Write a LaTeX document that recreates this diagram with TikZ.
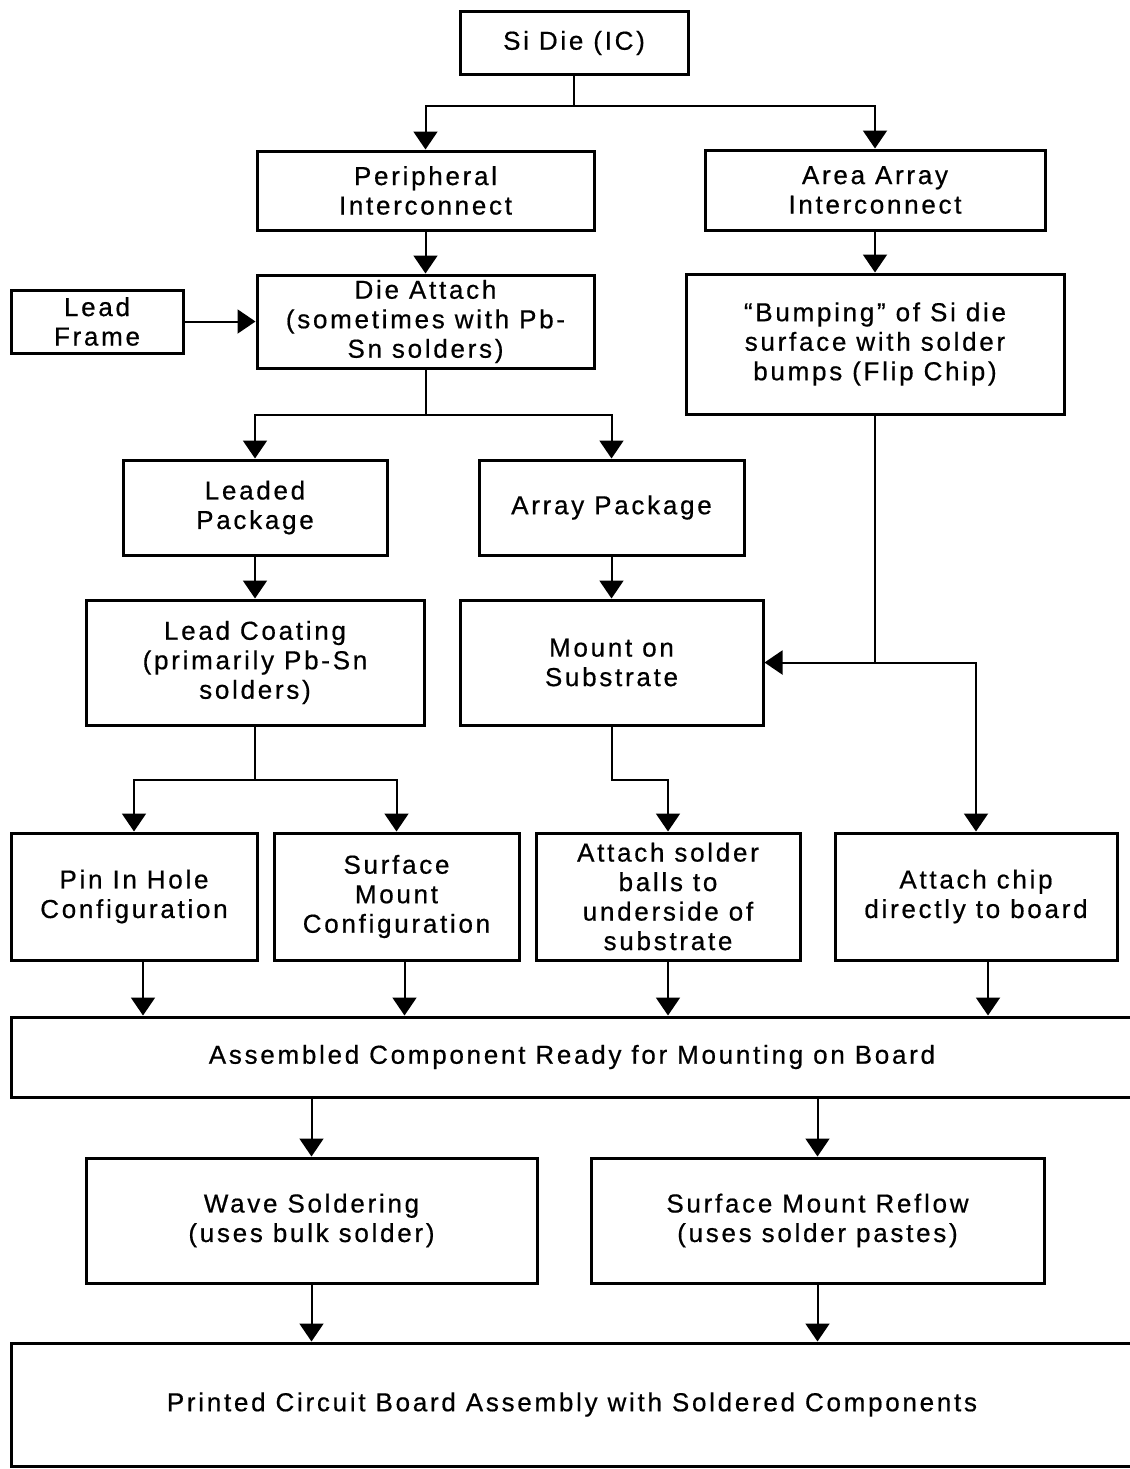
\documentclass[tikz,border=0pt]{standalone}
\usepackage{fontspec}
\setmainfont[LetterSpace=10.5, FakeBold=0.6]{Liberation Sans}
\usetikzlibrary{arrows.meta}

\begin{document}
\begin{tikzpicture}[x=0.5pt, y=-0.5pt]
    \useasboundingbox (0, 0) rectangle (1130, 1469); % bounding box

    % process boxes
    \begin{scope}[every node/.style={draw, line width=1.5pt, align=center, inner sep=0pt, font=\fontsize{13pt}{14.75pt}\selectfont}]
        \node at ( 574,   43) [minimum width=114pt,   minimum height=31.5pt] (sidie)  {Si Die (IC)};

        % interconnect
        \node at ( 425.5, 190.5) [minimum width=168.5pt, minimum height=39.5pt] (periph) {Peripheral\\Interconnect};
        \node at ( 875,  190) [minimum width=170pt,   minimum height=40pt]   (area)   {Area Array\\Interconnect};

        % die attach / bumping
        \node at (  97,  321.5) [minimum width=86pt,    minimum height=31.5pt] (frame)  {Lead\\Frame};
        \node at ( 425.5, 321.5) [minimum width=168.5pt, minimum height=46.5pt] (attach) {Die Attach\\(sometimes with Pb-\\Sn solders)};
        \node at ( 875,  344) [minimum width=189pt,   minimum height=70pt]   (bump)   {“Bumping” of Si die\\surface with solder\\bumps (Flip Chip)};

        % packages
        \node at ( 255,  507.5) [minimum width=132pt,   minimum height=47.5pt] (leaded) {Leaded\\Package};
        \node at ( 611.5, 507.5) [minimum width=132.5pt, minimum height=47.5pt] (arrpkg) {Array Package};
        \node at ( 255,  662.5) [minimum width=169pt,   minimum height=62.5pt] (coat)   {Lead Coating\\(primarily Pb-Sn\\solders)};
        \node at ( 611.5, 662.5) [minimum width=151.5pt, minimum height=62.5pt] (mount)  {Mount on\\Substrate};

        % configurations
        \node at ( 134,  896.5) [minimum width=123pt,   minimum height=63.5pt] (pih)    {Pin In Hole\\Configuration};
        \node at ( 396.5, 896.5) [minimum width=122.5pt, minimum height=63.5pt] (smc)    {Surface\\Mount\\Configuration};
        \node at ( 668,  896.5) [minimum width=132pt,   minimum height=63.5pt] (balls)  {Attach solder\\balls to\\underside of\\substrate};
        \node at ( 976,  896.5) [minimum width=141pt,   minimum height=63.5pt] (chip)   {Attach chip\\directly to board};

        % board level
        \node at ( 572, 1057) [minimum width=561pt,   minimum height=40pt]   (ready)  {Assembled Component Ready for Mounting on Board};
        \node at ( 311.5, 1220.5) [minimum width=225.5pt, minimum height=62.5pt] (wave)   {Wave Soldering\\(uses bulk solder)};
        \node at ( 817.5, 1220.5) [minimum width=226.5pt, minimum height=62.5pt] (reflow) {Surface Mount Reflow\\(uses solder pastes)};
        \node at ( 572, 1404.5) [minimum width=561pt,   minimum height=61.5pt] (pcb)    {Printed Circuit Board Assembly with Soldered Components};
    \end{scope}

    \coordinate (split) at (bump.south |- mount.east);

    % flow
    \begin{scope}[every path/.style={line width=1pt, -{Triangle[length=9pt, width=12pt]}}]
        \draw (sidie.south)  -- ++(0, 30) -| (periph.north);
        \draw (sidie.south)  -- ++(0, 30) -| (area.north);
        \draw (periph.south) -- (attach.north);
        \draw (frame.east)   -- (attach.west);
        \draw (area.south)   -- (bump.north);
        \draw (attach.south) -- ++(0, 45) -| (leaded.north);
        \draw (attach.south) -- ++(0, 45) -| (arrpkg.north);
        \draw (leaded.south) -- (coat.north);
        \draw (arrpkg.south) -- (mount.north);
        \draw (bump.south)   -- (split) -- (mount.east);
        \draw (split)        -| (chip.north);
        \draw (coat.south)   -- ++(0, 53) -| (pih.north);
        \draw (coat.south)   -- ++(0, 53) -| (smc.north);
        \draw (mount.south)  -- ++(0, 53) -| (balls.north);

        % into assembly
        \draw ([xshift=4.5pt]pih.south)   -- ([xshift=4.5pt]pih.south |- ready.north);
        \draw ([xshift=4pt]smc.south)     -- ([xshift=4pt]smc.south |- ready.north);
        \draw (balls.south)               -- (balls.south |- ready.north);
        \draw ([xshift=6pt]chip.south)    -- ([xshift=6pt]chip.south |- ready.north);

        \draw (ready.south -| wave.north)   -- (wave.north);
        \draw (ready.south -| reflow.north) -- (reflow.north);
        \draw (wave.south)   -- (wave.south |- pcb.north);
        \draw (reflow.south) -- (reflow.south |- pcb.north);
    \end{scope}
\end{tikzpicture}
\end{document}
